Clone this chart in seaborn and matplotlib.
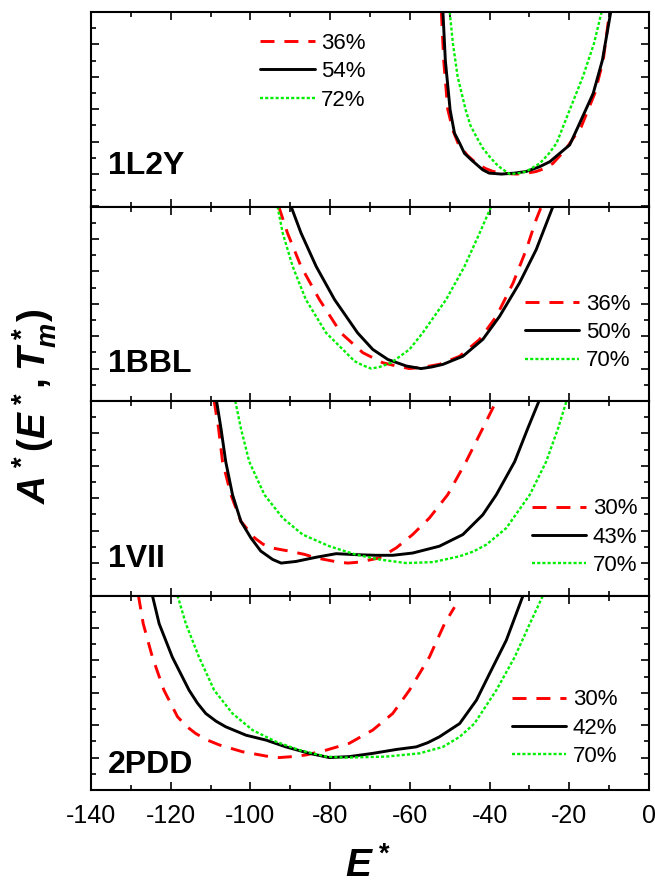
import numpy as np
import pandas as pd
import matplotlib
matplotlib.use("Agg")
import matplotlib.pyplot as plt
from matplotlib.ticker import MultipleLocator, NullFormatter
import seaborn as sns

# ---------------- data ----------------
# Panel 1: 1L2Y
E_1L2Y_36 = [-52.1, -51.5, -50.5, -49.2, -47.9, -45.6, -43.3, -41.0, -39.1, -36.0, -33.3, -30.5, -28.3, -26.0, -24.1, -21.0, -17.0, -13.6, -11.5, -9.9]
A_1L2Y_36 = [5.0, 3.5, 2.0, 1.35, 0.95, 0.58, 0.33, 0.17, 0.08, 0.02, 0.0, 0.03, 0.08, 0.18, 0.33, 0.75, 1.46, 2.49, 3.5, 5.0]
E_1L2Y_54 = [-51.7, -51.1, -49.9, -48.8, -47.5, -46.3, -44.6, -41.7, -40.1, -37.0, -33.7, -30.8, -27.4, -24.9, -22.4, -19.9, -17.8, -14.0, -11.7, -9.6]
A_1L2Y_54 = [5.0, 3.51, 1.98, 1.26, 0.95, 0.64, 0.44, 0.13, 0.03, 0.0, 0.03, 0.08, 0.23, 0.38, 0.64, 0.9, 1.46, 2.49, 3.51, 5.0]
E_1L2Y_72 = [-50.0, -49.2, -48.0, -46.0, -44.8, -43.3, -41.7, -40.0, -38.5, -37.1, -34.9, -32.5, -30.8, -27.4, -25.2, -23.2, -19.9, -16.6, -13.8, -11.9]
A_1L2Y_72 = [5.0, 4.03, 3.0, 1.98, 1.5, 1.15, 0.8, 0.54, 0.33, 0.18, 0.0, 0.03, 0.08, 0.33, 0.62, 0.95, 1.98, 3.0, 4.03, 5.0]

# Panel 2: 1BBL
E_1BBL_36 = [-92.9, -90.7, -87.3, -82.7, -77.3, -71.8, -66.8, -63.4, -60.1, -56.3, -52.6, -47.5, -42.5, -38.3, -34.1, -30.8, -28.3, -27.0]
A_1BBL_36 = [5.0, 4.18, 3.15, 2.13, 1.1, 0.49, 0.18, 0.08, 0.0, 0.05, 0.13, 0.38, 0.9, 1.61, 2.64, 3.67, 4.6, 5.0]
E_1BBL_50 = [-89.8, -87.3, -83.5, -78.9, -73.1, -69.3, -65.5, -60.9, -57.2, -54.5, -51.7, -46.7, -41.7, -37.5, -32.5, -28.3, -24.1]
A_1BBL_50 = [5.0, 4.18, 3.15, 2.13, 1.1, 0.59, 0.28, 0.08, 0.0, 0.05, 0.13, 0.38, 0.9, 1.61, 2.64, 3.67, 5.0]
E_1BBL_70 = [-93.2, -91.9, -89.4, -86.1, -81.0, -76.0, -73.9, -71.8, -69.7, -67.6, -64.7, -60.1, -56.8, -50.9, -46.3, -42.5, -39.6]
A_1BBL_70 = [5.0, 4.18, 3.15, 2.13, 1.1, 0.49, 0.23, 0.1, 0.0, 0.05, 0.18, 0.59, 1.1, 2.13, 3.15, 4.18, 5.0]

# Panel 3: 1VII
E_1VII_30 = [-109.1, -108.0, -107.0, -104.9, -102.4, -99.0, -96.8, -94.8, -90.3, -86.5, -83.5, -78.0, -75.5, -72.7, -67.6, -63.4, -59.3, -55.1, -50.5, -45.9, -41.7, -38.3]
A_1VII_30 = [5.0, 4.16, 3.13, 2.11, 1.29, 0.78, 0.58, 0.47, 0.37, 0.27, 0.16, 0.03, 0.0, 0.03, 0.16, 0.47, 0.88, 1.39, 2.11, 3.13, 4.16, 5.0]
E_1VII_43 = [-108.5, -107.4, -106.2, -104.5, -102.4, -99.9, -97.4, -94.4, -92.3, -88.6, -83.5, -78.5, -73.5, -68.5, -64.3, -59.3, -52.6, -46.7, -41.7, -38.3, -33.7, -30.4, -27.6]
A_1VII_43 = [5.0, 4.16, 3.13, 2.11, 1.29, 0.78, 0.37, 0.11, 0.0, 0.05, 0.18, 0.29, 0.26, 0.24, 0.24, 0.31, 0.52, 0.88, 1.49, 2.11, 3.13, 4.16, 5.0]
E_1VII_70 = [-103.8, -102.4, -100.3, -96.5, -91.9, -86.9, -80.2, -73.5, -67.6, -60.9, -54.2, -47.5, -44.0, -40.8, -35.8, -29.9, -25.8, -22.8, -20.7]
A_1VII_70 = [5.0, 4.16, 3.13, 2.11, 1.39, 0.88, 0.52, 0.26, 0.11, 0.0, 0.03, 0.21, 0.36, 0.57, 1.08, 2.11, 3.13, 4.16, 5.0]

# Panel 4: 2PDD
E_2PDD_30 = [-128.1, -126.9, -124.6, -121.7, -118.3, -116.0, -113.7, -110.8, -107.8, -102.0, -95.3, -92.8, -89.5, -86.1, -81.0, -75.2, -69.3, -64.3, -60.1, -55.1, -51.3, -48.8]
A_2PDD_30 = [5.0, 4.13, 3.1, 2.08, 1.26, 0.96, 0.74, 0.54, 0.39, 0.18, 0.03, 0.0, 0.03, 0.08, 0.23, 0.44, 0.85, 1.36, 2.08, 3.1, 4.13, 4.64]
E_2PDD_42 = [-124.6, -122.9, -119.6, -115.4, -113.3, -111.2, -108.6, -106.2, -101.1, -96.1, -91.1, -85.2, -80.2, -75.2, -69.3, -63.4, -58.4, -55.5, -52.6, -47.5, -43.3, -40.0, -35.8, -31.6]
A_2PDD_42 = [5.0, 4.13, 3.1, 2.08, 1.68, 1.36, 1.12, 0.95, 0.69, 0.54, 0.33, 0.13, 0.0, 0.03, 0.13, 0.25, 0.33, 0.46, 0.64, 1.05, 1.77, 2.59, 3.62, 5.0]
E_2PDD_70 = [-118.3, -116.2, -112.9, -109.1, -104.5, -99.5, -93.6, -87.7, -81.0, -76.0, -66.0, -57.6, -51.7, -47.5, -43.8, -38.3, -33.7, -29.9, -26.6]
A_2PDD_70 = [5.0, 4.13, 3.1, 2.08, 1.36, 0.85, 0.49, 0.23, 0.03, 0.0, 0.03, 0.13, 0.33, 0.64, 1.05, 2.08, 3.1, 4.13, 5.0]

proteins = ["1L2Y", "1BBL", "1VII", "2PDD"]
legend_labels = {
    "1L2Y": ["36%", "54%", "72%"],
    "1BBL": ["36%", "50%", "70%"],
    "1VII": ["30%", "43%", "70%"],
    "2PDD": ["30%", "42%", "70%"],
}
series = {
    "1L2Y": [(E_1L2Y_36, A_1L2Y_36), (E_1L2Y_54, A_1L2Y_54), (E_1L2Y_72, A_1L2Y_72)],
    "1BBL": [(E_1BBL_36, A_1BBL_36), (E_1BBL_50, A_1BBL_50), (E_1BBL_70, A_1BBL_70)],
    "1VII": [(E_1VII_30, A_1VII_30), (E_1VII_43, A_1VII_43), (E_1VII_70, A_1VII_70)],
    "2PDD": [(E_2PDD_30, A_2PDD_30), (E_2PDD_42, A_2PDD_42), (E_2PDD_70, A_2PDD_70)],
}
x_tick_values = [-140, -120, -100, -80, -60, -40, -20, 0]
x_tick_labels = ["-140", "-120", "-100", "-80", "-60", "-40", "-20", "0"]

# ---------------- styling ----------------
sns.set_style("ticks")
plt.rcParams["font.family"] = ["Liberation Sans", "DejaVu Sans"]
plt.rcParams["mathtext.fontset"] = "custom"
plt.rcParams["mathtext.it"] = "Liberation Sans:bold:italic"
plt.rcParams["mathtext.rm"] = "Liberation Sans:bold"
plt.rcParams["mathtext.bf"] = "Liberation Sans:bold"
plt.rcParams["mathtext.sf"] = "Liberation Sans:bold"
for k in ["text.color", "axes.labelcolor", "xtick.color", "ytick.color",
          "axes.edgecolor"]:
    plt.rcParams[k] = "black"

colors = ["#ff0000", "#000000", "#00ee00"]
styles = [(0, (4.8, 3.4)), "-", (0, (1.3, 0.9))]
widths = [2.1, 2.1, 1.7]

fig = plt.figure(figsize=(6.55, 8.84), dpi=100)
left, right = 91 / 655, 649 / 655
top, bottom = 1 - 12 / 884, 1 - 790 / 884
h = (top - bottom) / 4

legend_pos = {"1L2Y": (0.303, 0.693), "1BBL": (0.777, 0.352),
              "1VII": (0.79, 0.30), "2PDD": (0.754, 0.318)}
label_pos = {"1L2Y": 0.168, "1BBL": 0.147, "1VII": 0.144, "2PDD": 0.088}

for i, p in enumerate(proteins):
    ax = fig.add_axes([left, top - (i + 1) * h, right - left, h])
    for (E, A), lab, c, ls, lw in zip(series[p], legend_labels[p], colors, styles, widths):
        df = pd.DataFrame({"E": E, "A": A})
        sns.lineplot(data=df, x="E", y="A", ax=ax, color=c, linestyle=ls,
                     linewidth=lw, label=lab, sort=False, estimator=None)
    ax.set_xlim(-140, 0)
    ax.set_ylim(-1, 5)
    ax.xaxis.set_major_locator(MultipleLocator(20))
    ax.xaxis.set_minor_locator(MultipleLocator(10))
    ax.yaxis.set_major_locator(MultipleLocator(1))
    ax.yaxis.set_minor_locator(MultipleLocator(0.5))
    ax.yaxis.set_major_formatter(NullFormatter())
    ax.tick_params(which="both", direction="in", top=True, right=True,
                   width=1.2, color="black")
    ax.tick_params(which="major", length=6)
    ax.tick_params(which="minor", length=3.5)
    for s in ax.spines.values():
        s.set_linewidth(1.5)
        s.set_color("black")
    ax.set_xlabel("")
    ax.set_ylabel("")
    if i < 3:
        ax.xaxis.set_major_formatter(NullFormatter())
    else:
        ax.set_xticks(x_tick_values)
        ax.set_xticklabels(x_tick_labels, fontsize=18)
        ax.tick_params(axis="x", which="major", pad=10)
    ax.text(0.03, label_pos[p], p, transform=ax.transAxes, fontsize=23,
            fontweight="bold", ha="left", va="baseline")
    ax.legend(loc="center left", bbox_to_anchor=legend_pos[p], frameon=False,
              fontsize=16, handlelength=2.45, handletextpad=0.3,
              labelspacing=0.33, borderpad=0, borderaxespad=0)

fig.text(368 / 655, 1 - 866 / 884, r"$E^*$", ha="center", va="center", fontsize=28)
fig.text(35 / 655, 1 - 406 / 884, r"$A^*(E^*,T^*_m)$", rotation=90,
         ha="center", va="center", fontsize=28)

fig.savefig("out.png", dpi=100)
